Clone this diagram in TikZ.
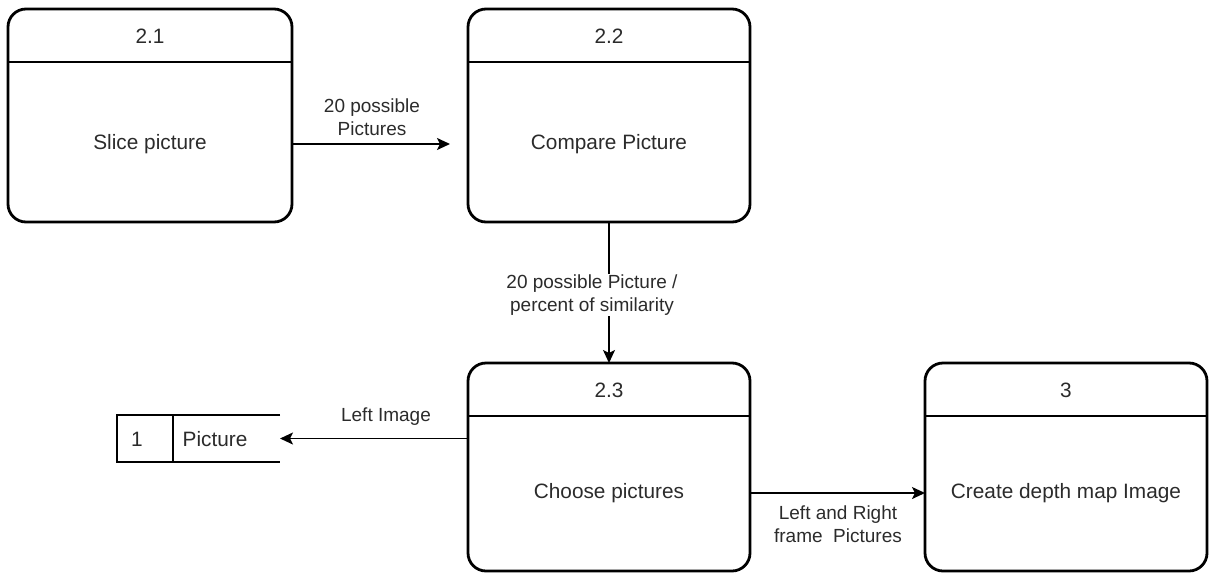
\documentclass[tikz,border=0pt]{standalone}
\usepackage{fontspec}
\setmainfont{Liberation Sans}
\usetikzlibrary{arrows.meta}
\definecolor{txt}{HTML}{2B2B2B}
\begin{document}
\begin{tikzpicture}[x=1pt,y=-1pt,
  proc/.style={draw, line width=2.8pt, rounded corners=18pt, inner sep=0pt, outer sep=0pt},
  divider/.style={line width=2.8pt},
  head/.style={text=txt, font=\fontsize{20.8}{25}\selectfont},
  body/.style={text=txt, font=\fontsize{20.8}{25}\selectfont},
  elabel/.style={text=txt, font=\fontsize{19}{23}\selectfont, align=center, fill=white, inner sep=1pt},
  flow/.style={line width=1.8pt, -{Stealth[length=13pt,width=12pt,inset=3pt]}},
  store/.style={line width=1.6pt},
]
\useasboundingbox (0,0) rectangle (1209,573);

% processes
\node[proc, minimum width=284pt, minimum height=213pt] (b21) at (150,115.5) {};
\node[proc, minimum width=282pt, minimum height=213pt] (b22) at (609,115.5) {};
\node[proc, minimum width=282pt, minimum height=208pt] (b23) at (609,467) {};
\node[proc, minimum width=282pt, minimum height=208pt] (b3)  at (1066,467) {};

% header dividers
\foreach \b in {b21,b22,b23,b3}{
  \draw[divider] ([yshift=-53pt]\b.north west) -- ([yshift=-53pt]\b.north east);
}

% header numbers
\node[head] (b21h) at ([yshift=-27pt]b21.north) {2.1};
\node[head] (b22h) at ([yshift=-27pt]b22.north) {2.2};
\node[head] (b23h) at ([yshift=-27pt]b23.north) {2.3};
\node[head] (b3h)  at ([yshift=-27pt]b3.north)  {3};

% process names
\node[body] (b21t) at (150,144) {Slice picture};
\node[body] (b22t) at (609,144) {Compare Picture};
\node[body] (b23t) at (609,493) {Choose pictures};
\node[body] (b3t)  at (1066,493) {Create depth map Image};

% data store
\node[minimum width=163pt, minimum height=47pt, inner sep=0pt, outer sep=0pt] (ds) at (198.5,438.5) {};
\draw[store] (ds.north east) -- (ds.north west) -- (ds.south west) -- (ds.south east);
\draw[store] ([xshift=56pt]ds.north west) -- ([xshift=56pt]ds.south west);
\node[body] (dsn) at (137,439) {1};
\node[body] (dst) at (215,439) {Picture};

% data flows
\draw[flow, shorten >=18pt] (b21.east |- b21t) -- (b22.west |- b21t);
\node[elabel, fill=none] (l1) at (372,117) {20 possible\\Pictures};

\draw[flow] (b22.south) -- (b23.north);
\node[elabel] (l2) at (592,295) {20 possible Picture /\\percent of similarity};

\draw[flow] (b23.west |- ds.east) -- (ds.east);
\node[elabel, fill=none] (l3) at (386,417) {Left Image};

\draw[flow] (b23.east |- b23t) -- (b3.west |- b23t);
\node[elabel, fill=none] (l4) at (838,524) {Left and Right\\frame\ \ Pictures};
\end{tikzpicture}
\end{document}
